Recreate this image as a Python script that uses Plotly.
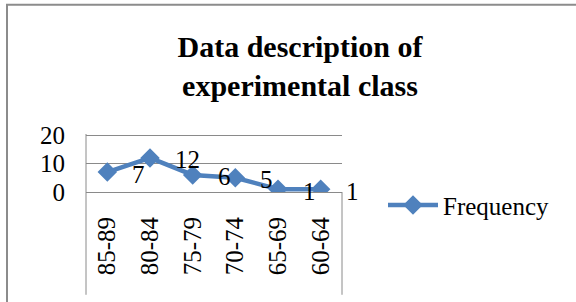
import plotly.graph_objects as go

categories = ["85-89", "80-84", "75-79", "70-74", "65-69", "60-64"]
frequency = [7, 12, 6, 5, 1, 1]
y_ticks = [0, 10, 20]
series_name = "Frequency"
title_text = "Data description of<br>experimental class"

W, H = 576, 302
L, R, T, B = 86, 234, 135, 110
PW, PH = W - L - R, H - T - B

def px_x(p):
    return (p - L) / PW

def px_y(p):
    return 1 - (p - T) / PH

FONT = "Liberation Serif"
BLUE = "#4F81BD"
GRID = "#8A8A8A"

fig = go.Figure()
fig.add_trace(go.Scatter(
    x=categories, y=frequency, name=series_name,
    mode="lines+markers",
    line=dict(color=BLUE, width=4.5),
    marker=dict(symbol="diamond", size=15, color=BLUE),
))

for c, v in zip(categories, frequency):
    fig.add_annotation(x=c, y=v, text=str(v), showarrow=False,
                       xanchor="left", yanchor="middle", xshift=23, yshift=-2,
                       font=dict(family=FONT, size=25, color="black"))

shapes = [
    dict(type="rect", xref="paper", yref="paper",
         x0=px_x(7), x1=px_x(600), y0=px_y(330), y1=px_y(8),
         line=dict(color="#8C8C8C", width=2), layer="below"),
    dict(type="line", xref="paper", yref="paper",
         x0=0, x1=0, y0=px_y(293), y1=1,
         line=dict(color=GRID, width=1)),
    dict(type="line", xref="paper", yref="paper",
         x0=1, x1=1, y0=px_y(293), y1=0,
         line=dict(color=GRID, width=1)),
]

fig.update_layout(
    width=W, height=H,
    margin=dict(l=L, r=R, t=T - 1, b=B, pad=0, autoexpand=False),
    paper_bgcolor="white", plot_bgcolor="white",
    font=dict(family=FONT, size=25, color="black"),
    title=dict(text="<b>" + title_text + "</b>", x=300 / W, xanchor="center",
               xref="container", yref="container", y=1 - 57 / H, yanchor="top",
               font=dict(family=FONT, size=30, color="black")),
    showlegend=True,
    legend=dict(x=px_x(383), xanchor="left", y=px_y(205), yanchor="middle",
                font=dict(family=FONT, size=25, color="black"),
                bgcolor="rgba(0,0,0,0)", itemwidth=50),
    shapes=shapes,
    xaxis=dict(type="category", range=[-0.5, 5.5], showgrid=False, automargin=False,
               showline=True, linecolor=GRID, linewidth=1, zeroline=False,
               tickangle=-90, ticks="", ticklabelstandoff=14,
               tickfont=dict(family=FONT, size=25, color="black")),
    yaxis=dict(range=[0, 20.4], tickvals=y_ticks, showgrid=True, gridcolor=GRID, automargin=False,
               gridwidth=1, zeroline=False, showline=False, ticks="",
               ticklabelstandoff=20,
               tickfont=dict(family=FONT, size=25, color="black")),
)

fig.write_html("out.html", config={"displayModeBar": False},
               post_script="document.body.style.margin='0';")
